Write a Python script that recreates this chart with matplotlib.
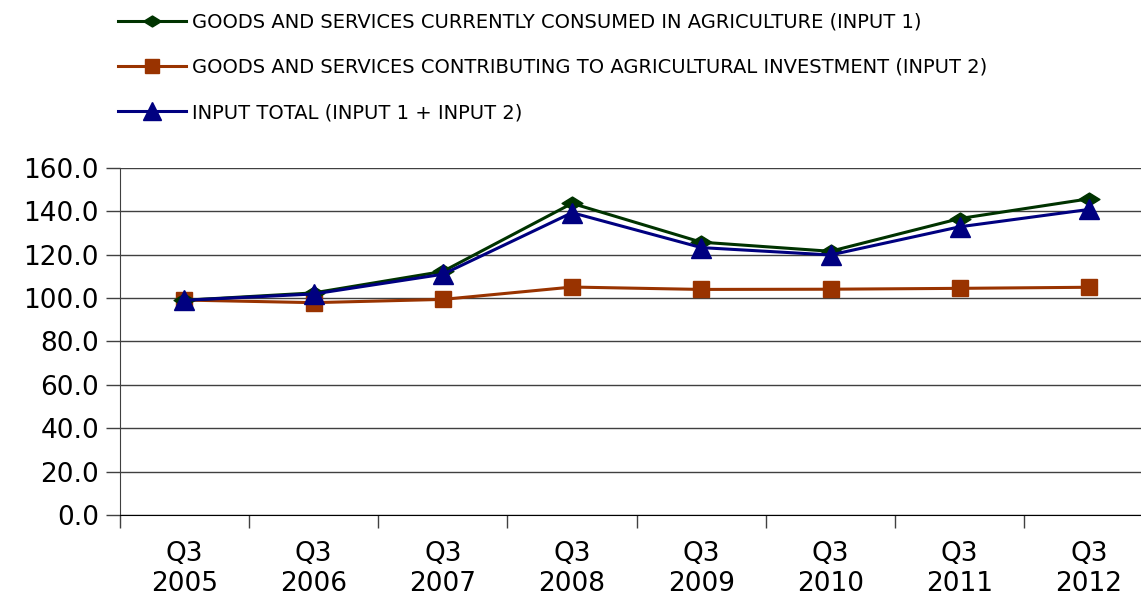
import numpy as np
import matplotlib
matplotlib.use("Agg")
import matplotlib.pyplot as plt
from matplotlib.path import Path

plt.rcParams['font.family'] = ['DejaVu Sans']

# categories and series values
periods = ['Q3\n2005', 'Q3\n2006', 'Q3\n2007', 'Q3\n2008', 'Q3\n2009', 'Q3\n2010', 'Q3\n2011', 'Q3\n2012']
input1 = [99.0, 102.4, 112.3, 143.7, 125.8, 121.6, 136.7, 145.8]
input2 = [99.1, 97.9, 99.4, 105.1, 104.0, 104.1, 104.5, 105.0]
total = [99.0, 101.9, 111.0, 139.4, 123.3, 119.9, 132.9, 140.9]
labels = ['GOODS AND SERVICES CURRENTLY CONSUMED IN AGRICULTURE (INPUT 1)',
          'GOODS AND SERVICES CONTRIBUTING TO AGRICULTURAL INVESTMENT (INPUT 2)',
          'INPUT TOTAL (INPUT 1 + INPUT 2)']
yticks = np.arange(0, 161, 20)

# flattened diamond like the original
flat_diamond = Path([(-1, 0), (0, 0.62), (1, 0), (0, -0.62), (-1, 0)],
                    [Path.MOVETO, Path.LINETO, Path.LINETO, Path.LINETO, Path.CLOSEPOLY])

fig = plt.figure(figsize=(11.41, 5.98), dpi=100)
ax = fig.add_axes([0.105, 0.139, 0.906, 0.580])
x = np.arange(len(periods))

l1, = ax.plot(x, input1, color='#003300', lw=2.2, marker=flat_diamond, ms=15, label=labels[0], zorder=4)
l2, = ax.plot(x, input2, color='#993300', lw=2.2, marker='s', ms=12, label=labels[1], zorder=3)
l3, = ax.plot(x, total, color='#000080', lw=2.2, marker='^', ms=14.5, label=labels[2], zorder=5)

ax.set_xlim(-0.5, len(periods) - 0.5)
ax.set_ylim(0, 160)
ax.set_yticks(yticks)
ax.set_yticklabels(['%.1f' % v for v in yticks], fontsize=19)
ax.set_xticks(x)
ax.set_xticklabels(periods, fontsize=19, linespacing=1.2)
ax.set_xticks(np.arange(-0.5, len(periods)), minor=True)
ax.tick_params(axis='x', which='major', length=0, pad=19)
ax.tick_params(axis='x', which='minor', length=9, width=1, direction='out', color='#404040')
ax.tick_params(axis='y', length=10, width=1, direction='out', pad=5, color='#404040')
ax.yaxis.grid(True, color='#404040', lw=1)
ax.set_axisbelow(True)
for s in ['top', 'right']:
    ax.spines[s].set_visible(False)
ax.spines['left'].set_color('#404040')
ax.spines['bottom'].set_color('black')

fig.legend(handles=[l1, l2, l3], loc='upper left', bbox_to_anchor=(0.088, 1.008),
           frameon=False, fontsize=14, handlelength=3.5, handletextpad=0.3,
           labelspacing=1.35, markerscale=0.85)

fig.savefig('out.png', dpi=100)
